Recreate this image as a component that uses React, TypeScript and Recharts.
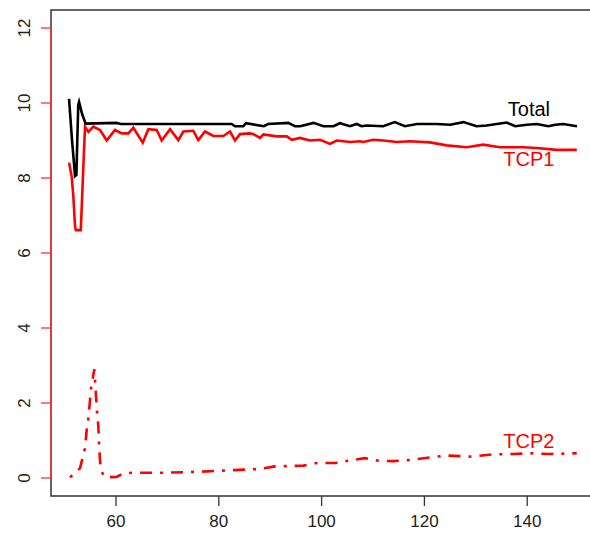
import React from "react";
import {
  LineChart,
  Line,
  XAxis,
  YAxis,
  ReferenceArea,
  ReferenceLine,
  ReferenceDot,
} from "recharts";

// ---- data ----
const totalX = [50.86, 51.44, 52.03, 52.29, 52.65, 52.81, 53.42, 54.1, 60.1, 60.92, 70.68, 82.5, 83.15, 84.77, 85.27, 88.76, 89.58, 93.49, 94.82, 95.85, 98.42, 100.37, 102.32, 103.55, 105.51, 106.84, 107.77, 108.79, 111.98, 114.24, 116.19, 118.55, 122.35, 125.02, 127.59, 130.16, 132.11, 136.01, 137.66, 139.92, 141.87, 144.13, 145.46, 147.01, 149.68];
const totalY = [10.11, 9.01, 8.05, 8.08, 9.95, 10.03, 9.7, 9.45, 9.47, 9.44, 9.44, 9.44, 9.38, 9.38, 9.46, 9.38, 9.44, 9.47, 9.38, 9.38, 9.47, 9.38, 9.38, 9.46, 9.38, 9.44, 9.38, 9.4, 9.38, 9.49, 9.38, 9.44, 9.44, 9.42, 9.49, 9.38, 9.4, 9.48, 9.38, 9.42, 9.44, 9.38, 9.42, 9.44, 9.38];

const tcp1X = [50.86, 51.38, 51.7, 52.03, 52.19, 53.14, 53.33, 53.73, 53.97, 54.62, 55.58, 56.89, 58.19, 59.8, 61.11, 62.39, 63.37, 65.2, 66.29, 67.92, 68.89, 70.51, 72.12, 73.1, 75.04, 76.01, 77.32, 78.93, 80.87, 82.18, 83.15, 84.13, 86.07, 86.72, 88.02, 88.66, 91.27, 93.21, 94.19, 95.8, 97.74, 99.69, 101.63, 102.94, 105.53, 107.47, 108.11, 110.06, 112.01, 114.62, 117.2, 121.09, 124.33, 128.23, 131.46, 134.71, 139.24, 141.85, 145.74, 149.64];
const tcp1Y = [8.41, 8.03, 7.5, 6.7, 6.61, 6.61, 7.23, 8.6, 9.37, 9.23, 9.37, 9.28, 9.0, 9.28, 9.19, 9.19, 9.34, 8.94, 9.3, 9.28, 9.0, 9.3, 9.01, 9.24, 9.26, 9.01, 9.24, 9.12, 9.12, 9.24, 9.0, 9.17, 9.19, 9.17, 9.07, 9.16, 9.11, 9.11, 9.02, 9.07, 9.0, 9.02, 8.91, 9.0, 8.96, 8.98, 8.96, 9.02, 9.0, 8.96, 8.98, 8.95, 8.87, 8.82, 8.89, 8.82, 8.82, 8.8, 8.75, 8.75];

const tcp2X = [51.05, 52.99, 53.97, 54.3, 54.62, 54.94, 55.14, 55.78, 56.25, 56.56, 56.75, 57.02, 57.86, 60.13, 61.42, 63.37, 69.53, 76.67, 82.52, 88.02, 90.94, 93.86, 96.45, 99.04, 102.61, 105.2, 108.44, 111.03, 113.95, 117.2, 121.09, 124.33, 128.88, 133.41, 137.3, 140.54, 144.44, 149.64];
const tcp2Y = [0.02, 0.26, 0.8, 1.28, 1.6, 2.08, 2.4, 2.9, 1.87, 1.37, 0.75, 0.21, 0.02, 0.03, 0.125, 0.14, 0.14, 0.17, 0.21, 0.24, 0.31, 0.32, 0.33, 0.4, 0.4, 0.46, 0.53, 0.46, 0.45, 0.48, 0.55, 0.6, 0.57, 0.63, 0.64, 0.66, 0.64, 0.66];

const xTicks = [60, 80, 100, 120, 140];
const yTicks = [0, 2, 4, 6, 8, 10, 12];

const labelNames = ["Total", "TCP1", "TCP2"];
const labelX = [140.33, 140.33, 140.33];
const labelY = [9.65, 8.32, 0.8];
const labelColors = ["#000000", "#ff0000", "#ff0000"];

const X_DOMAIN: [number, number] = [47.35, 153.19];
const Y_DOMAIN: [number, number] = [-0.48, 12.48];

const toPts = (xs: number[], ys: number[]) => xs.map((x, i) => ({ x, y: ys[i] }));
const totalData = toPts(totalX, totalY);
const tcp1Data = toPts(tcp1X, tcp1Y);
const tcp2Data = toPts(tcp2X, tcp2Y);

const FONT = "'Liberation Sans', Arial, sans-serif";

const XTick = (props: any) => {
  const { x, y, payload } = props;
  return (
    <text x={x} y={y + 19} textAnchor="middle" fontSize={17} fill="#222" fontFamily={FONT}>
      {payload.value}
    </text>
  );
};

const YTick = (props: any) => {
  const { x, y, payload } = props;
  const px = x - 9;
  return (
    <text
      x={px}
      y={y}
      transform={`rotate(-90, ${px}, ${y})`}
      textAnchor="middle"
      fontSize={17}
      fill="#222"
      fontFamily={FONT}
    >
      {payload.value}
    </text>
  );
};

export default function App() {
  return (
    <div
      style={{
        position: "absolute",
        left: 0,
        top: 0,
        width: 590,
        height: 536,
        overflow: "hidden",
        background: "#fff",
      }}
    >
      <LineChart width={600} height={536} margin={{ top: 10, right: 5, bottom: 0, left: 0 }}>
        <XAxis
          dataKey="x"
          type="number"
          domain={X_DOMAIN}
          allowDataOverflow
          ticks={xTicks}
          axisLine={false}
          tickLine={{ stroke: "#333", strokeWidth: 1.3 }}
          tickSize={10}
          height={40}
          tick={<XTick />}
          interval={0}
        />
        <YAxis
          dataKey="y"
          type="number"
          domain={Y_DOMAIN}
          allowDataOverflow
          ticks={yTicks}
          axisLine={false}
          tickLine={{ stroke: "#ff3030", strokeWidth: 1.3 }}
          tickSize={10}
          width={51}
          tick={<YTick />}
          interval={0}
        />
        <ReferenceArea
          x1={X_DOMAIN[0]}
          x2={X_DOMAIN[1]}
          y1={Y_DOMAIN[0]}
          y2={Y_DOMAIN[1]}
          fill="none"
          fillOpacity={0}
          stroke="#333"
          strokeWidth={1.5}
          ifOverflow="visible"
        />
        <ReferenceLine
          segment={[
            { x: X_DOMAIN[0], y: yTicks[0] },
            { x: X_DOMAIN[0], y: yTicks[yTicks.length - 1] },
          ]}
          stroke="#ff3030"
          strokeWidth={1.5}
          ifOverflow="visible"
        />
        <Line
          data={tcp2Data}
          dataKey="y"
          type="linear"
          stroke="#ff0000"
          strokeWidth={2.6}
          strokeDasharray="3 8 12 8"
          dot={false}
          isAnimationActive={false}
        />
        <Line
          data={tcp1Data}
          dataKey="y"
          type="linear"
          stroke="#ff0000"
          strokeWidth={2.6}
          dot={false}
          isAnimationActive={false}
        />
        <Line
          data={totalData}
          dataKey="y"
          type="linear"
          stroke="#000000"
          strokeWidth={2.6}
          dot={false}
          isAnimationActive={false}
        />
        {labelNames.map((name, i) => (
          <ReferenceDot
            key={name}
            x={labelX[i]}
            y={labelY[i]}
            r={0}
            ifOverflow="visible"
            shape={(p: any) => (
              <text
                x={p.cx}
                y={p.cy}
                textAnchor="middle"
                fontSize={20}
                fill={labelColors[i]}
                fontFamily={FONT}
              >
                {name}
              </text>
            )}
          />
        ))}
      </LineChart>
    </div>
  );
}
